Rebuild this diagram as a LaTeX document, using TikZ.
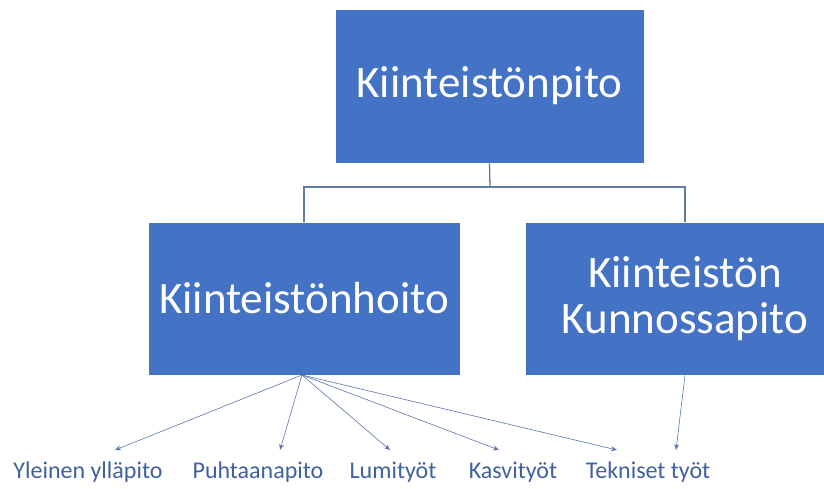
\documentclass[tikz,border=0pt]{standalone}
\usepackage{fontspec}
\setmainfont{Carlito}
\usetikzlibrary{arrows.meta}
\definecolor{boxblue}{HTML}{4472C4}
\definecolor{treeline}{HTML}{6479A0}
\definecolor{arrowline}{HTML}{5B77AE}
\definecolor{labeltext}{HTML}{41609E}
\tikzset{
  orgbox/.style={rectangle, fill=boxblue, draw=white, line width=0.6pt,
    text=white, font=\fontsize{45}{50}\selectfont, align=center, inner sep=0pt},
  tree/.style={draw=treeline, line width=1.3pt},
  leaf/.style={text=labeltext, font=\fontsize{24}{28}\selectfont, inner sep=0pt, anchor=base},
  taskarrow/.style={draw=arrowline, line width=0.6pt, -{Stealth[length=6pt,width=5pt]}}
}
\begin{document}
\begin{tikzpicture}[x=1pt, y=-1pt]
  \useasboundingbox (0,0) rectangle (824,488);
  \clip (0,0) rectangle (824,488);
  \fill[white] (0,0) rectangle (824,488);

  % management boxes
  \node[orgbox, minimum width=309pt, minimum height=154pt] (top) at (489.5,86) {Kiinteistönpito};
  \node[orgbox, minimum width=312pt, minimum height=153pt] (hoito) at (304,298.5) {Kiinteistönhoito};
  \node[orgbox, minimum width=320pt, minimum height=153pt] (kunto) at (685,298.5) {Kiinteistön\\[-4pt]Kunnossapito};

  % tree connectors
  \coordinate (bus) at (490,187);
  \draw[tree] (top.south) -- (bus);
  \draw[tree] (hoito.north) |- (bus) -| (kunto.north);

  % task labels
  \node[leaf] (yl) at (88,478) {Yleinen ylläpito};
  \node[leaf] (pu) at (258,478) {Puhtaanapito};
  \node[leaf] (lu) at (393,478) {Lumityöt};
  \node[leaf] (ka) at (513,478) {Kasvityöt};
  \node[leaf] (te) at (648,478) {Tekniset työt};

  % arrow tips above the labels
  \coordinate (tyl) at (115,450);
  \coordinate (tpu) at (280,450);
  \coordinate (tlu) at (390,450);
  \coordinate (tka) at (499,450);
  \coordinate (tte) at (617,450);
  \coordinate (tkt) at (676,450);

  \coordinate (hs) at (302,375);
  \draw[taskarrow] (hs) -- (tyl);
  \draw[taskarrow] (hs) -- (tpu);
  \draw[taskarrow] (hs) -- (tlu);
  \draw[taskarrow] (hs) -- (tka);
  \draw[taskarrow] (hs) -- (tte);
  \draw[taskarrow] (kunto.south) -- (tkt);
\end{tikzpicture}
\end{document}
